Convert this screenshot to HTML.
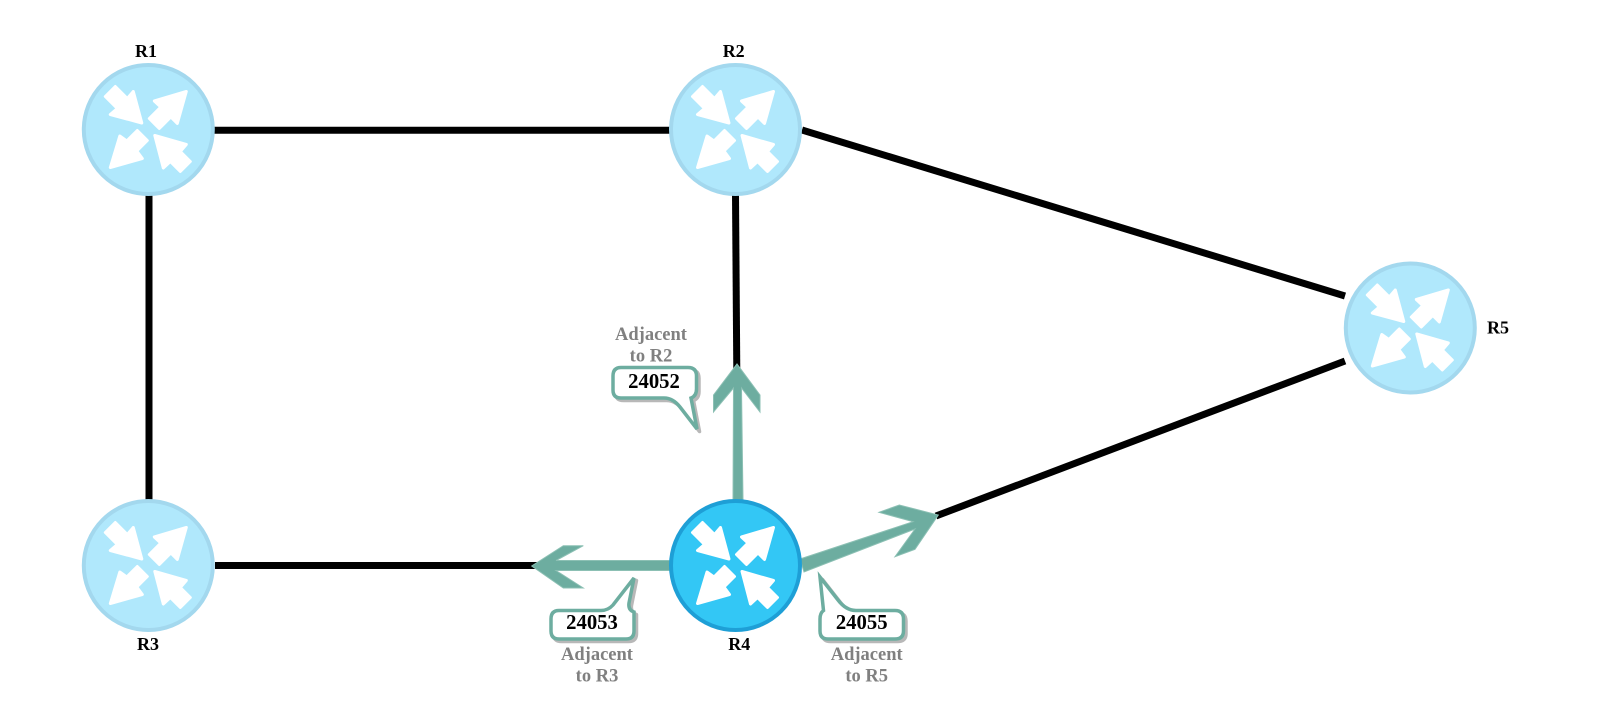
<!DOCTYPE html>
<html>
<head>
<meta charset="utf-8">
<style>
html,body{margin:0;padding:0;background:#fff;width:1600px;height:708px;overflow:hidden}
svg{display:block}
text{font-family:"Liberation Serif",serif;font-weight:bold;text-anchor:middle}
.n{font-size:18px;fill:#000}
.v{font-size:20.7px;fill:#000}
.a{font-size:18.5px;fill:#808080}
</style>
</head>
<body>
<svg width="1600" height="708" viewBox="0 0 1600 708" xmlns="http://www.w3.org/2000/svg">
<defs>
<g id="icon" fill="#fff" stroke="#fff" stroke-width="3" stroke-linejoin="round">
<path d="M-6.500-6.500-15-38-21-31-33-43-43-33-31-21-38-15Z"/>
<path d="M38-38 6-28.500 12.500-22.500 1-11 11-1 22.500-12.500 29-6Z"/>
<path d="M-38 38-28.500 6.500-21.500 11.500-11 1-1 11-11.500 21.500-6 29Z"/>
<path d="M6.500 6 38 15 32 22 42 32 32 42 22 32 15 38.500Z"/>
</g>
</defs>

<g stroke="#000" stroke-width="7" fill="none">
<path d="M214 130.200H670"/>
<path d="M149 195V501"/>
<path d="M735.500 195 736.800 372"/>
<path d="M802 130 1345 296"/>
<path d="M936 516 1345 361"/>
<path d="M215 565.500H545"/>
</g>

<!-- Teal arrows -->
<g fill="#6dada0" stroke="#8cc0b4" stroke-width="1">
<path d="M733 500 733.500 388 713.500 412V395L737 364 760 395V412L741.500 388 743 500Z"/>
<path d="M672 560.500H556L583.300 545.700H563.300L531.700 566 563.300 588H583.300L556 570.500H672Z"/>
<path d="M800 559 913 521.700 879 512.300 899.300 505 938.300 515 915 549.300 895 556.700 915 529 804 572Z"/>
</g>

<!-- Routers -->
<g stroke-width="4">
<circle cx="148.300" cy="129.500" r="64.500" fill="#b0e8fc" stroke="#a3d8ee"/>
<circle cx="735.500" cy="129.500" r="64.500" fill="#b0e8fc" stroke="#a3d8ee"/>
<circle cx="148.300" cy="565.500" r="64.500" fill="#b0e8fc" stroke="#a3d8ee"/>
<circle cx="1410.300" cy="328" r="64.500" fill="#b0e8fc" stroke="#a3d8ee"/>
<circle cx="735.500" cy="565.500" r="64.500" fill="#33c7f5" stroke="#1e9fd6"/>
</g>
<use href="#icon" x="148.300" y="129.500"/>
<use href="#icon" x="735.500" y="129.500"/>
<use href="#icon" x="148.300" y="565.500"/>
<use href="#icon" x="1410.300" y="328"/>
<use href="#icon" x="735.500" y="565.500"/>

<!-- Callouts -->
<defs>
<path id="c1" d="M621 367.500H688Q696.500 367.500 696.500 376V389Q696.500 396 691 398L697 429 680 407Q673 398 664 398H621Q613 398 613 390V376Q613 367.500 621 367.500Z"/>
<path id="c2" d="M559 610.500H601Q608 610.500 613 605L634 578 629 603Q628 610 634 612V631Q634 639 626 639H559Q551 639 551 631V619Q551 610.500 559 610.500Z"/>
<path id="c3" d="M823.500 610.500 820 577 838 600Q846 610.500 856 610.500H895Q903.500 610.500 903.500 619V631Q903.500 639 895 639H828Q820 639 820 631V619Q820 613 823.500 610.500Z"/>
</defs>
<g fill="#b8b8b8" stroke="#b8b8b8" stroke-width="3.500" stroke-linejoin="round" transform="translate(2.500 2.500)">
<use href="#c1"/><use href="#c2"/><use href="#c3"/>
</g>
<g fill="#fff" stroke="#6dada0" stroke-width="3.500" stroke-linejoin="miter">
<use href="#c1"/><use href="#c2"/><use href="#c3"/>
</g>

<!-- Labels -->
<text class="n" x="146" y="57">R1</text>
<text class="n" x="733.700" y="57">R2</text>
<text class="n" x="148" y="650">R3</text>
<text class="n" x="739.300" y="650">R4</text>
<text class="n" x="1498" y="333.500">R5</text>

<text class="v" x="654" y="388">24052</text>
<text class="v" x="592" y="629">24053</text>
<text class="v" x="861.700" y="629">24055</text>

<text class="a" x="651" y="340">Adjacent</text>
<text class="a" x="651" y="361.700">to R2</text>
<text class="a" x="597" y="660">Adjacent</text>
<text class="a" x="597" y="681.700">to R3</text>
<text class="a" x="866.700" y="660">Adjacent</text>
<text class="a" x="866.700" y="681.700">to R5</text>
</svg>
</body>
</html>
